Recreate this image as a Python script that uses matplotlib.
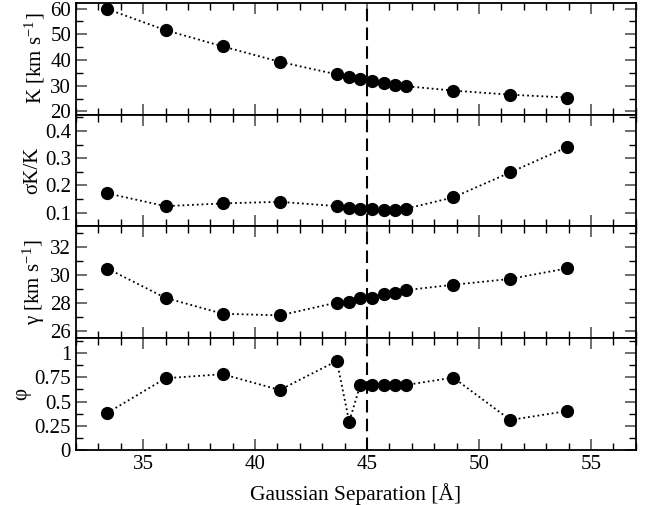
import matplotlib
matplotlib.use('Agg')
import matplotlib.pyplot as plt
from matplotlib.ticker import MultipleLocator

plt.rcParams['font.family'] = ['Liberation Serif', 'DejaVu Serif']
plt.rcParams['mathtext.fontset'] = 'stix'

# separacion gaussiana (Angstrom)
sep = [33.4, 36.0, 38.55, 41.1, 43.65, 44.2, 44.7, 45.2, 45.75, 46.25, 46.75, 48.85, 51.4, 53.95]

K = [59.8, 51.6, 45.3, 39.3, 34.4, 33.2, 32.7, 31.7, 31.1, 30.3, 29.8, 28.1, 26.5, 25.4]
sigK = [0.171, 0.124, 0.134, 0.140, 0.124, 0.119, 0.115, 0.112, 0.111, 0.111, 0.115, 0.156, 0.248, 0.341]
gam = [30.48, 28.38, 27.25, 27.13, 28.05, 28.12, 28.36, 28.4, 28.68, 28.7, 28.94, 29.32, 29.74, 30.5]
phi = [0.383, 0.741, 0.783, 0.62, 0.92, 0.293, 0.672, 0.672, 0.672, 0.672, 0.672, 0.748, 0.31, 0.403]

series = [K, sigK, gam, phi]
etiquetas = ['K [km s$^{\\mathregular{-1}}$]', '\u03c3K/K', '\u03b3 [km s$^{\\mathregular{-1}}$]', '\u03c6']
limites = [(18.8, 62.3), (0.05, 0.46), (25.5, 33.5), (0, 1.155)]
mayores = [10, 0.1, 2, 0.25]
menores = [5, 0.05, 1, 0.125]

fig, axs = plt.subplots(4, 1, sharex=True, figsize=(6.59, 5.05), dpi=100)
fig.subplots_adjust(left=0.1153, right=0.9647, top=0.9947, bottom=0.1089, hspace=0)

for i in range(4):
    ax = axs[i]
    ax.plot(sep, series[i], ls=':', color='k', lw=1.3, marker='o', ms=8.5, mfc='k', mec='k')
    ax.axvline(45, color='k', ls='--', lw=1.5, dashes=(6, 3))
    ax.set_ylim(limites[i])
    ax.set_xlim(32, 57)
    ax.xaxis.set_major_locator(MultipleLocator(5))
    ax.xaxis.set_minor_locator(MultipleLocator(1))
    ax.yaxis.set_major_locator(MultipleLocator(mayores[i]))
    ax.yaxis.set_minor_locator(MultipleLocator(menores[i]))
    ax.tick_params(which='both', direction='in', top=True, right=True, labelsize=15)
    ax.tick_params(which='major', length=8, width=1.2, color='#555555')
    ax.tick_params(which='minor', length=5, width=1)
    ax.set_ylabel(etiquetas[i], fontsize=15, labelpad=2)
    for s in ax.spines.values():
        s.set_linewidth(1.3)

axs[1].set_yticks([0.1, 0.2, 0.3, 0.4])
axs[1].set_yticklabels(['0.1', '0.2', '0.3', '0.4'])
axs[3].set_yticks([0, 0.25, 0.5, 0.75, 1])
axs[3].set_yticklabels(['0', '0.25', '0.5', '0.75', '1'])
axs[3].set_xlabel('Gaussian Separation [\u00c5]', fontsize=15.5, labelpad=7)

plt.savefig('out.png')
